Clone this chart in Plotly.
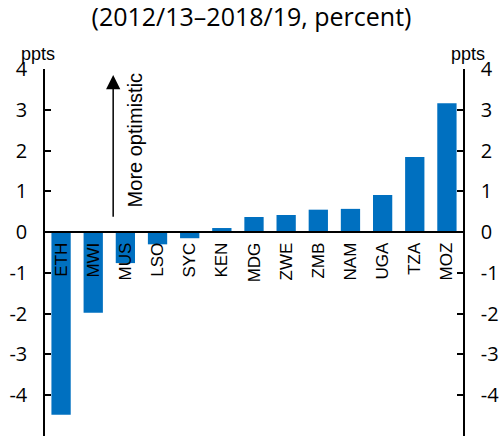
import plotly.graph_objects as go

countries = ["ETH", "MWI", "MUS", "LSO", "SYC", "KEN", "MDG", "ZWE", "ZMB", "NAM", "UGA", "TZA", "MOZ"]
gap_ppts = [-4.48, -1.98, -0.76, -0.30, -0.15, 0.10, 0.37, 0.42, 0.55, 0.57, 0.91, 1.84, 3.16]
y_ticks = [4, 3, 2, 1, 0, -1, -2, -3, -4, -5]

font = "Open Sans"
label_font = "Liberation Sans"
y_range = [-5, 4]
zero_pos = (0 - y_range[0]) / (y_range[1] - y_range[0])

fig = go.Figure()
fig.add_trace(go.Bar(
    x=countries, y=gap_ppts,
    marker=dict(color="#0070C0", line=dict(width=0)),
    showlegend=False, hoverinfo="x+y"
))
# dummy trace so the right axis gets drawn
fig.add_trace(go.Scatter(
    x=[countries[0]], y=[0], yaxis="y2", mode="none",
    showlegend=False, hoverinfo="skip"
))

axis_common = dict(
    range=y_range, tickvals=y_ticks, ticktext=[str(v) for v in y_ticks],
    ticks="inside", ticklen=6, tickcolor="black", tickwidth=1.5,
    showline=True, linecolor="black", linewidth=1.5, showgrid=False, zeroline=False,
    tickfont=dict(family=font, size=20, color="black"), fixedrange=True, automargin=False,
    ticklabelstandoff=12,
)

fig.update_layout(
    width=503, height=444,
    margin=dict(l=45, r=40, t=69, b=8, autoexpand=False),
    paper_bgcolor="white", plot_bgcolor="white",
    bargap=0.4,
    title=dict(
        text="(2012/13–2018/19, percent)",
        x=0.5, xanchor="center", y=0.961, yanchor="middle",
        font=dict(family=font, size=25, color="black"),
    ),
    xaxis=dict(
        anchor="free", position=zero_pos, showline=True, linecolor="black", linewidth=1.5,
        ticks="", tickangle=-90, showgrid=False, zeroline=False, automargin=False,
        tickfont=dict(family=label_font, size=17, color="black"), ticklabelstandoff=3,
        fixedrange=True,
    ),
    yaxis=dict(axis_common, side="left"),
    yaxis2=dict(axis_common, side="right", overlaying="y"),
)

# unit labels
fig.add_annotation(text="ppts", xref="paper", yref="paper", x=-0.017, y=1.04,
                   xanchor="center", yanchor="middle", showarrow=False,
                   font=dict(family=label_font, size=18, color="black"))
fig.add_annotation(text="ppts", xref="paper", yref="paper", x=1.012, y=1.04,
                   xanchor="center", yanchor="middle", showarrow=False,
                   font=dict(family=label_font, size=18, color="black"))

# "More optimistic" arrow
fig.add_annotation(x=1.62, y=3.85, ax=1.62, ay=0.34, xref="x", yref="y", axref="x", ayref="y",
                   text="", showarrow=True, arrowhead=2, arrowsize=1.9, arrowwidth=1.5,
                   arrowcolor="black")
fig.add_annotation(x=2.3, y=2.25, xref="x", yref="y", text="More optimistic",
                   textangle=-90, showarrow=False,
                   font=dict(family=label_font, size=20, color="black"))

# drop the default page margin so the chart sits at the window's top-left corner
fig.write_html("out.html", config={"displayModeBar": False},
               post_script="document.body.style.margin = '0';")
